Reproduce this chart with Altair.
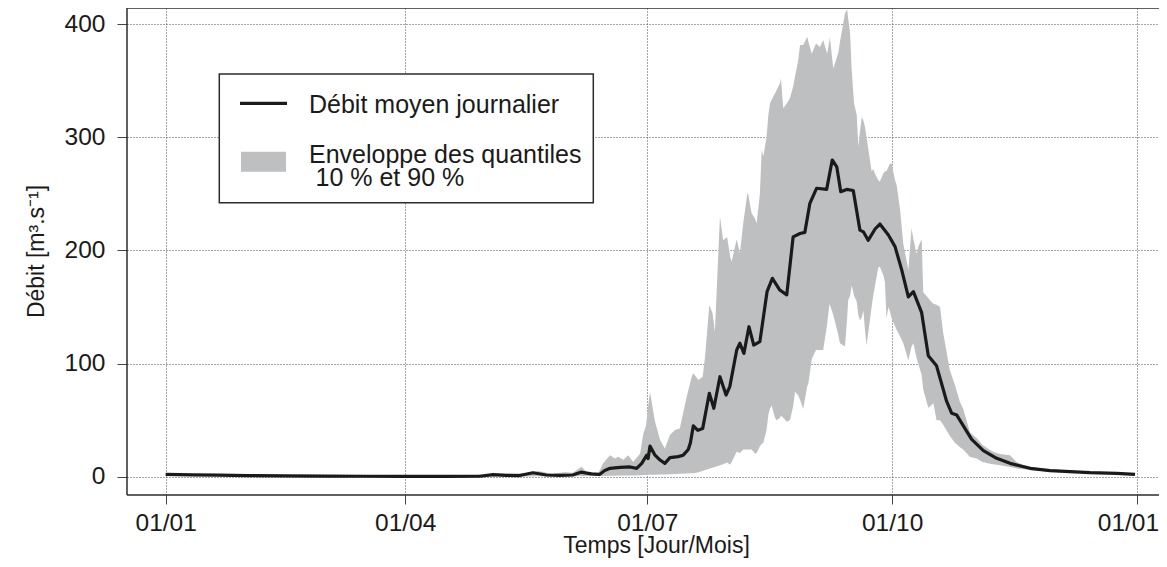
import json
import altair as alt
import pandas as pd

# ---------------- data ----------------
mean_days = [0, 10, 20, 31, 45, 60, 75, 90, 105, 118, 123, 128, 133, 138, 143, 148, 153, 156, 160, 163,
             165, 167, 170.7, 174.5, 177, 178.9, 180.8, 181.3, 182, 183.9, 185.8, 187.6, 189.5, 192.6,
             194.5, 196.4, 197.2, 198.3, 200, 201.8, 204.3, 206, 208.3, 210.6, 212, 214.6, 215.8, 217.3,
             219.2, 221, 223.3, 226, 228, 230.8, 233.4, 235.8, 238.4, 240.2, 242.1, 244.6, 248.4, 250.5,
             252.2, 253.7, 255.9, 258.4, 260.9, 262.2, 264, 266.6, 268.4, 271.6, 274.1, 276.6, 279.1,
             281, 284.1, 286.6, 289.7, 293.5, 295.4, 297.3, 302.9, 307.3, 312.3, 317.3, 324.8, 332.3,
             339.8, 347.4, 357.4, 364.3]
mean_vals = [2.0, 1.6, 1.3, 1.0, 0.7, 0.5, 0.4, 0.3, 0.3, 0.4, 1.8, 1.2, 1.0, 3.5, 1.5, 1.2, 1.5, 4.0, 2.5, 2.0,
             5.5, 7.4, 8.3, 8.6, 7.4, 11.8, 19, 16, 27, 19, 14.7, 11.8, 16.8, 17.7,
             19, 24, 30, 45, 41, 42.5, 73.7, 60.5, 88.4, 72.2, 79.6, 112, 118, 109,
             132.6, 116.4, 119.4, 163.6, 175.4, 165, 160.7, 212, 215, 216, 241.7, 255, 254, 280,
             274, 252, 254, 253, 218, 216.5, 209, 219, 223.4, 213.7, 203.4, 182.8, 159,
             163.6, 145, 107, 98, 66.5, 56, 54.5, 33, 23, 16.2, 11.8, 7.4, 5.3,
             4.4, 3.5, 3.0, 2.1]

env_days = [0, 15, 30, 50, 70, 90, 110, 120, 125, 135, 140, 145, 150, 153, 156.3, 158.2, 162.6, 164.4,
            167, 168.8, 170, 172, 173.8, 175.7, 178.3, 179.5, 180.5, 181.3, 182, 183.9, 185.8, 187.6,
            189.5, 191.4, 193.2, 195.8, 197.7, 198.3, 200.2, 201.8, 202.7, 204.3, 205.5, 206.4, 208.3,
            209.5, 211, 212.1, 212.7, 214.6, 215.8, 217.1, 218.6, 218.9, 220.2, 221.5, 222.1, 223.3,
            224, 224.6, 225.8, 226.5, 227.1, 227.7, 229, 229.6, 230.9, 231.2, 232.1, 233.4, 234.6,
            235.8, 236.5, 237.7, 238.4, 239.6, 241.1, 241.5, 242.8, 244.4, 245.9, 247.1, 248.6, 249.4,
            249.6, 250.9, 252.8, 253.4, 255.3, 256.1, 256.5, 257.2, 257.8, 258.7, 259.7, 260.3, 260.9,
            261.6, 262.2, 262.8, 263.4, 265.3, 265.9, 266.5, 267.8, 268.4, 269.7, 270.3, 270.9, 271.6,
            272.2, 272.8, 274.1, 274.7, 276, 277.2, 279.1, 280.3, 281, 282.2, 282.8, 284.1, 284.7,
            286.6, 287.2, 288.5, 289.7, 291, 292.2, 294.7, 296.6, 298.5, 299.7, 302.3, 304.8, 307,
            309.8, 311, 313.5, 317.3, 319.8, 322.3, 327, 332, 340, 350, 358, 364]
q10_vals = [0.8, 0.5, 0.3, 0.2, 0.1, 0.1, 0.1, 0.1, 0.1, 0.2, 0.3, 0.3, 0.4, 0.4, 0.5, 0.5, 0.6, 0.7,
            0.8, 0.9, 1.0, 1.0, 1.0, 1.0, 1.2, 1.5, 1.5, 1.6, 1.7, 1.8, 2.0, 2.0,
            2.2, 2.4, 2.6, 2.8, 3.0, 3.0, 4.0, 5.0, 6.0, 7.0, 8.0, 8.5, 10,
            11, 12.5, 10.5, 13, 22, 21, 24, 24, 24, 24, 20.6, 21, 27,
            29, 30, 41, 55, 60, 63, 52, 50, 52, 54, 52, 48.6, 50,
            62, 75, 72, 68, 60, 80, 82, 104, 112, 112, 112, 135, 152,
            152, 143, 125, 118, 115, 140, 156, 160, 169, 160, 155, 143, 138,
            141, 147, 130, 116, 150, 160, 168, 185, 185.7, 178, 172, 140, 150,
            146, 140, 133, 130, 124, 118, 103, 115, 118, 105, 100, 90, 77,
            61, 62, 65, 50, 50, 46, 36, 30, 26, 24, 17.5, 16, 13,
            11.5, 11, 10, 8.5, 7.2, 6.5, 5.5, 4.6, 3.8, 3.0, 2.5, 1.8]
q90_vals = [3.0, 2.2, 1.8, 1.2, 1.0, 0.8, 0.9, 2.0, 2.5, 3.0, 5.0, 2.5, 4.0, 3.5, 8.8, 4.1, 3.0, 11.8,
            19, 16, 17.7, 15, 19, 13, 20.6, 38, 45, 62, 75, 48.6, 32.4, 25,
            36.9, 41.3, 42.7, 70.7, 88.4, 91.4, 85.5, 88.4, 106, 151.8, 144.5, 128, 230,
            209, 212, 195, 190, 210, 197.5, 225, 250.6, 250, 233, 228, 224, 250,
            289, 283, 300, 320, 330, 333, 339, 342, 348, 352, 325.7, 330, 334.6,
            345, 353.7, 368, 381.7, 381.7, 389, 385, 374, 383, 380, 386, 374, 385,
            388.5, 361, 375, 384.6, 409.7, 413, 405, 392, 360, 330, 320, 291.8, 305,
            318, 315, 309.5, 300, 270, 272, 268, 262, 261, 268, 270, 270, 274,
            277, 277, 262, 258, 236, 206, 182.8, 219.6, 210, 197, 203, 210, 163,
            158, 156, 153, 152, 150, 127, 94, 81, 66, 60, 39, 34, 28,
            23.6, 22, 20, 19, 13, 10.3, 8, 6.8, 5.5, 4.3, 3.6, 2.9]

tick_days = [0, 90, 181, 273, 365]
tick_labels = ["01/01", "01/04", "01/07", "01/10", "01/01"]
y_ticks = [0, 100, 200, 300, 400]

x_title = "Temps [Jour/Mois]"
y_title = "Débit [m³.s⁻¹]"
legend_labels = ["Débit moyen journalier", "Enveloppe des quantiles", "10 % et 90 %"]

# ---------------- styling ----------------
FONT = "Liberation Sans"
LINE_C = "#1a1a1a"
ENV_C = "#bebfc1"
FRAME_C = "#2b2b2b"
GRID_C = "#4d4d4d"

PLOT_W, PLOT_H = 1032, 487

df_mean = pd.DataFrame({"day": mean_days, "debit": mean_vals})
df_env = pd.DataFrame({"day": env_days, "q10": q10_vals, "q90": q90_vals})

xscale = alt.Scale(domain=[-14.54, 373.3], nice=False, zero=False)
yscale = alt.Scale(domain=[-16.2, 414.4], nice=False, zero=False)

label_expr = f"{json.dumps(tick_labels)}[indexof({json.dumps(tick_days)}, datum.value)]"

xaxis = alt.Axis(values=tick_days, labelExpr=label_expr, title=x_title, grid=True,
                 tickSize=9, labelPadding=26, labelBaseline="alphabetic",
                 labelOffset={"condition": {"test": "datum.value >= 365", "value": -9}, "value": 0},
                 titleX=529, titleY=57.5, titleBaseline="alphabetic", labelFlush=False,
                 labelOverlap=False)
yaxis = alt.Axis(values=y_ticks, title=y_title, grid=True, tickSize=10, labelPadding=12,
                 labelAlign="right", labelBaseline="middle",
                 titleAngle=270, titleX=-84, titleY=243, titleBaseline="alphabetic",
                 titleAlign="center")

area = alt.Chart(df_env).mark_area(color=ENV_C, opacity=1, clip=True).encode(
    x=alt.X("day:Q", scale=xscale, axis=xaxis),
    y=alt.Y("q90:Q", scale=yscale, axis=yaxis),
    y2="q10:Q",
)

line = alt.Chart(df_mean).mark_line(color=LINE_C, strokeWidth=3.2, strokeJoin="round", clip=True).encode(
    x=alt.X("day:Q", scale=xscale),
    y=alt.Y("debit:Q", scale=yscale),
)

one = pd.DataFrame({"k": [0]})
# plot frame: left, top and bottom sides (the right side lies outside the picture)
frame_left = alt.Chart(one).mark_rule(color=FRAME_C, strokeWidth=1.5).encode(
    x=alt.value(0), y=alt.value(0), y2=alt.value(PLOT_H))
frame_top = alt.Chart(one).mark_rule(color=FRAME_C, strokeWidth=1.5).encode(
    x=alt.value(0), x2=alt.value(PLOT_W), y=alt.value(0))
frame_bottom = alt.Chart(one).mark_rule(color=FRAME_C, strokeWidth=1.5).encode(
    x=alt.value(0), x2=alt.value(PLOT_W), y=alt.value(PLOT_H))

leg_box = alt.Chart(one).mark_rect(fill="white", stroke=FRAME_C, strokeWidth=1.5).encode(
    x=alt.value(92.3), x2=alt.value(466.3), y=alt.value(66), y2=alt.value(194.7))
leg_line = alt.Chart(one).mark_rule(color=LINE_C, strokeWidth=3.2).encode(
    x=alt.value(113), x2=alt.value(160), y=alt.value(95.3))
leg_rect = alt.Chart(one).mark_rect(color=ENV_C).encode(
    x=alt.value(114), x2=alt.value(159), y=alt.value(143.7), y2=alt.value(163.7))

df_leg = pd.DataFrame({"label": legend_labels, "px": [182, 182, 188.5], "py": [105.3, 154.7, 177.5]})
leg_text = alt.Chart(df_leg).mark_text(align="left", baseline="alphabetic", font=FONT,
                                       fontSize=25, color=LINE_C).encode(
    x=alt.X("px:Q", scale=None), y=alt.Y("py:Q", scale=None), text="label:N")

chart = alt.layer(area, line, frame_left, frame_top, frame_bottom,
                  leg_box, leg_line, leg_rect, leg_text).properties(
    width=PLOT_W, height=PLOT_H,
    padding={"left": 119, "top": 0, "right": 0, "bottom": 64},
    autosize=alt.AutoSizeParams(type="none"),
    background="white",
).configure_view(
    strokeWidth=0
).configure_axis(
    domain=False,
    gridColor=GRID_C, gridDash=[1, 2], gridWidth=1, gridOpacity=1,
    tickColor="#444444", tickWidth=1,
    labelFont=FONT, labelFontSize=24.5, labelColor="#1a1a1a",
    titleFont=FONT, titleFontSize=23, titleColor="#1a1a1a", titleFontWeight="normal",
)

chart.save("out.html", embed_options={"renderer": "svg", "actions": False})
